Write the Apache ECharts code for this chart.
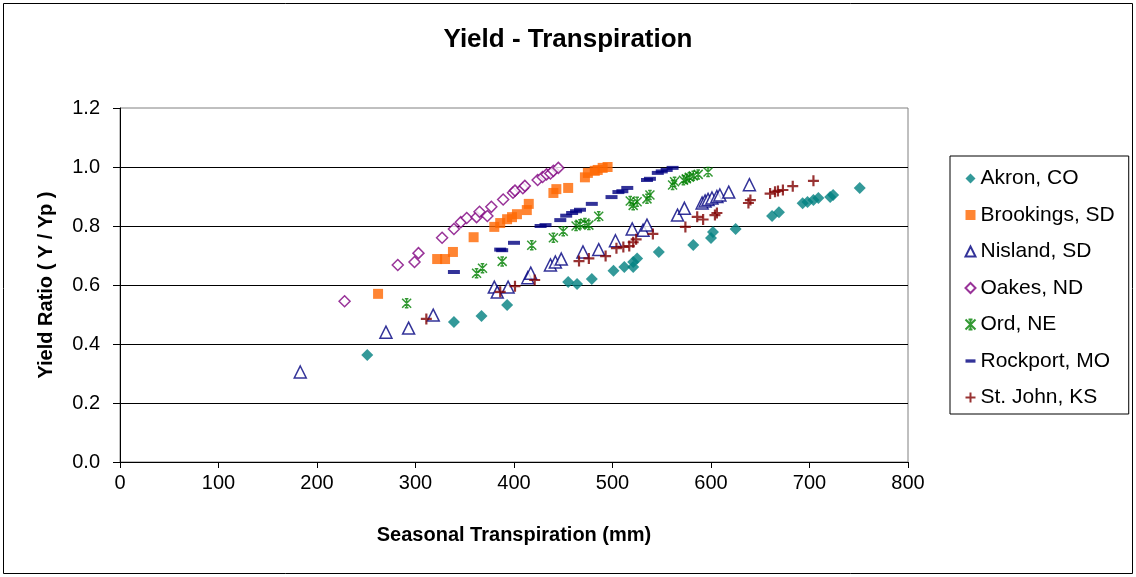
<!DOCTYPE html>
<html>
<head>
<meta charset="utf-8">
<script src="https://cdn.jsdelivr.net/npm/echarts@6/dist/echarts.min.js"></script>
<style>
html,body{margin:0;padding:0;background:#fff;}
#chart{width:1136px;height:577px;}
</style>
</head>
<body>
<div id="chart"></div>
<script>
var seriesNames = ['Akron, CO','Brookings, SD','Nisland, SD','Oakes, ND','Ord, NE','Rockport, MO','St. John, KS'];
var xTicks = [0,100,200,300,400,500,600,700,800];
var yTicks = [0.0,0.2,0.4,0.6,0.8,1.0,1.2];

var akron = [[251,0.363],[339,0.475],[367,0.495],[393,0.532],[455,0.61],[464,0.603],[479,0.62],[501,0.648],[512,0.661],[521,0.661],[521,0.678],[525,0.69],[547,0.712],[582,0.736],[600,0.759],[602,0.78],[625,0.79],[662,0.834],[669,0.847],[693,0.877],[698,0.881],[704,0.888],[709,0.895],[721,0.898],[724,0.905],[751,0.929]];
var brookings = [[262,0.57],[322,0.688],[330,0.688],[338,0.712],[359,0.762],[380,0.797],[386,0.81],[393,0.823],[398,0.83],[403,0.84],[413,0.854],[415,0.875],[440,0.912],[443,0.925],[455,0.929],[472,0.965],[475,0.98],[482,0.987],[485,0.99],[490,0.997],[495,1.0]];
var nisland = [[183,0.305],[270,0.44],[293,0.454],[318,0.498],[380,0.593],[383,0.576],[394,0.593],[414,0.625],[417,0.64],[437,0.668],[442,0.678],[448,0.688],[470,0.712],[486,0.72],[503,0.75],[520,0.79],[531,0.786],[535,0.803],[566,0.837],[573,0.86],[591,0.878],[594,0.885],[597,0.89],[601,0.895],[606,0.9],[609,0.905],[618,0.915],[639,0.94]];
var oakes = [[228,0.545],[282,0.668],[299,0.678],[303,0.708],[327,0.76],[339,0.79],[346,0.813],[352,0.827],[362,0.83],[365,0.848],[373,0.834],[377,0.865],[389,0.89],[399,0.913],[401,0.92],[409,0.928],[411,0.936],[424,0.956],[429,0.966],[433,0.975],[437,0.978],[440,0.987],[445,0.997]];
var ord = [[291,0.538],[362,0.64],[368,0.657],[388,0.68],[418,0.735],[440,0.76],[450,0.782],[463,0.80],[467,0.806],[472,0.81],[476,0.803],[486,0.833],[518,0.885],[521,0.87],[525,0.882],[535,0.892],[538,0.905],[561,0.939],[563,0.95],[572,0.955],[575,0.96],[578,0.965],[582,0.97],[587,0.975],[597,0.983]];
var rockport = [[339,0.644],[386,0.72],[388,0.718],[400,0.743],[427,0.8],[432,0.803],[447,0.82],[453,0.835],[459,0.844],[463,0.85],[467,0.855],[479,0.875],[499,0.898],[506,0.915],[510,0.918],[515,0.929],[535,0.956],[538,0.96],[546,0.98],[550,0.985],[555,0.99],[561,0.997]];
var stJohn = [[311,0.485],[386,0.577],[401,0.596],[421,0.617],[466,0.681],[476,0.69],[493,0.698],[504,0.725],[511,0.729],[517,0.732],[521,0.745],[524,0.755],[541,0.773],[574,0.797],[586,0.831],[592,0.822],[604,0.837],[606,0.844],[638,0.878],[640,0.888],[660,0.91],[665,0.916],[668,0.919],[673,0.922],[683,0.935],[704,0.953]];

var FONT = 'Arial, "Liberation Sans", sans-serif';
var chart = echarts.init(document.getElementById('chart'), null, {renderer:'canvas'});

function ser(name, data, symbol, size, style){
  return {
    name: name, type: 'scatter', data: data, symbol: symbol, symbolSize: size,
    symbolKeepAspect: true, itemStyle: style, emphasis: {disabled: true}, z: 3
  };
}

var option = {
  backgroundColor: '#ffffff',
  animation: false,
  title: {
    text: 'Yield - Transpiration', left: 'center', top: 22,
    textStyle: {fontFamily: FONT, fontSize: 26, fontWeight: 'bold', color: '#000'}
  },
  graphic: [{
    type: 'rect', shape: {x: 3.5, y: 3.5, width: 1129, height: 570},
    style: {fill: 'none', stroke: '#000', lineWidth: 1}, silent: true, z: -1
  }],
  grid: {left: 120, right: 228, top: 108, bottom: 115, show: true, borderColor: '#808080', borderWidth: 1, backgroundColor: 'transparent'},
  legend: {
    orient: 'vertical', left: 950, top: 156,
    padding: [12, 14, 6, 13], itemGap: 15.5, itemWidth: 10, itemHeight: 10,
    borderColor: '#000', borderWidth: 1, backgroundColor: '#fff',
    textStyle: {fontFamily: FONT, fontSize: 21, color: '#000', lineHeight: 20},
    data: seriesNames
  },
  xAxis: {
    type: 'value', min: 0, max: 800, interval: 100,
    name: 'Seasonal Transpiration (mm)', nameLocation: 'middle', nameGap: 63,
    nameTextStyle: {fontFamily: FONT, fontSize: 20, fontWeight: 'bold', color: '#000'},
    axisLine: {show: true, lineStyle: {color: '#000', width: 1}},
    axisTick: {show: true, inside: false, length: 6, lineStyle: {color: '#000'}},
    axisLabel: {fontFamily: FONT, fontSize: 20, color: '#000', margin: 11,
      formatter: function(v){ return xTicks.indexOf(v) >= 0 ? String(v) : ''; }},
    splitLine: {show: false}
  },
  yAxis: {
    type: 'value', min: 0, max: 1.2, interval: 0.2,
    name: 'Yield Ratio ( Y / Yp )', nameLocation: 'middle', nameGap: 64, nameRotate: 90,
    nameTextStyle: {fontFamily: FONT, fontSize: 20, fontWeight: 'bold', color: '#000'},
    axisLine: {show: true, lineStyle: {color: '#000', width: 1}},
    axisTick: {show: true, inside: false, length: 7, lineStyle: {color: '#000'}},
    axisLabel: {fontFamily: FONT, fontSize: 20, color: '#000', margin: 20,
      formatter: function(v){
        for (var i = 0; i < yTicks.length; i++) { if (Math.abs(yTicks[i] - v) < 1e-9) return yTicks[i].toFixed(1); }
        return '';
      }},
    splitLine: {show: true, showMaxLine: false, lineStyle: {color: '#000', width: 1}}
  },
  series: [
    ser(seriesNames[0], akron, 'diamond', 12, {color: '#008080'}),
    ser(seriesNames[1], brookings, 'rect', 10, {color: '#FF6600'}),
    ser(seriesNames[2], nisland, 'triangle', 12, {color: '#fff', borderColor: '#000080', borderWidth: 1.5}),
    ser(seriesNames[3], oakes, 'diamond', 11, {color: '#fff', borderColor: '#800080', borderWidth: 1.5}),
    ser(seriesNames[4], ord, 'path://M0,0L10,10M10,0L0,10M5,0L5,10M3,0L7,0M3,10L7,10', 9, {color: 'none', borderColor: '#008000', borderWidth: 1.5}),
    ser(seriesNames[5], rockport, 'path://M0,0L12,0L12,4L0,4Z', 12, {color: '#000080'}),
    ser(seriesNames[6], stJohn, 'path://M4,0L6,0L6,4L10,4L10,6L6,6L6,10L4,10L4,6L0,6L0,4L4,4Z', 11, {color: '#800000'})
  ]
};
chart.setOption(option);
</script>
</body>
</html>
